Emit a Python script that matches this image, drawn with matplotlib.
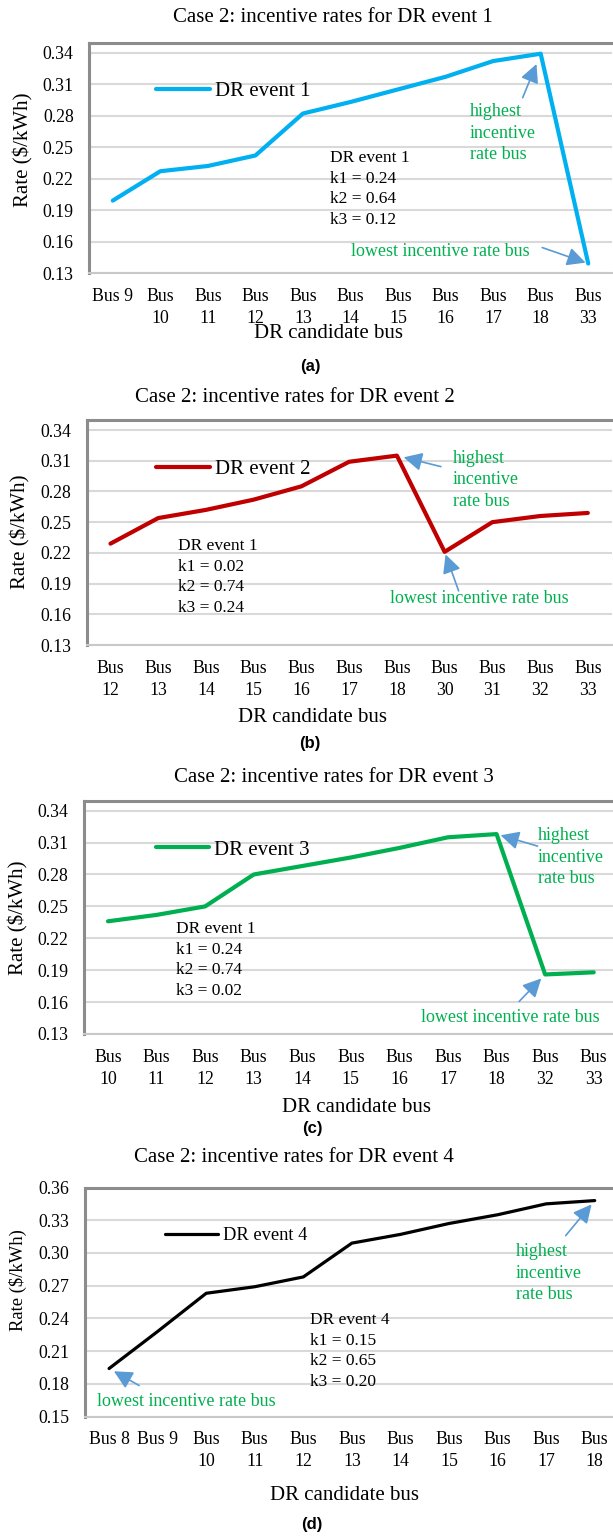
import numpy as np
import matplotlib
matplotlib.use('Agg')
import matplotlib.pyplot as plt

plt.rcParams['font.family'] = ['Liberation Serif', 'DejaVu Serif']

W, H = 613, 1537

# ---- data ----
buses_a = ['Bus 9', 'Bus\n10', 'Bus\n11', 'Bus\n12', 'Bus\n13', 'Bus\n14',
           'Bus\n15', 'Bus\n16', 'Bus\n17', 'Bus\n18', 'Bus\n33']
rates_a = [0.199, 0.227, 0.232, 0.242, 0.282, 0.293, 0.305, 0.317, 0.332, 0.339, 0.139]

buses_b = ['Bus\n12', 'Bus\n13', 'Bus\n14', 'Bus\n15', 'Bus\n16', 'Bus\n17',
           'Bus\n18', 'Bus\n30', 'Bus\n31', 'Bus\n32', 'Bus\n33']
rates_b = [0.229, 0.254, 0.262, 0.272, 0.285, 0.309, 0.315, 0.221, 0.250, 0.256, 0.259]

buses_c = ['Bus\n10', 'Bus\n11', 'Bus\n12', 'Bus\n13', 'Bus\n14', 'Bus\n15',
           'Bus\n16', 'Bus\n17', 'Bus\n18', 'Bus\n32', 'Bus\n33']
rates_c = [0.236, 0.242, 0.250, 0.280, 0.288, 0.296, 0.305, 0.315, 0.318, 0.186, 0.188]

buses_d = ['Bus 8', 'Bus 9', 'Bus\n10', 'Bus\n11', 'Bus\n12', 'Bus\n13',
           'Bus\n14', 'Bus\n15', 'Bus\n16', 'Bus\n17', 'Bus\n18']
rates_d = [0.194, 0.228, 0.263, 0.269, 0.278, 0.309, 0.317, 0.327, 0.335, 0.345, 0.348]

yticks_abc = [0.13, 0.16, 0.19, 0.22, 0.25, 0.28, 0.31, 0.34]
yticks_d = [0.15, 0.18, 0.21, 0.24, 0.27, 0.30, 0.33, 0.36]

GREEN = '#00B050'
ARROW = '#5B9BD5'


def frac(x, y):
    return x / W, 1 - y / H


def panel(fig, box, buses, rates, color, lw, yticks, ytop, legend_txt, leg_pos, leg_size):
    left, right, top, bottom = box
    x0, y0 = frac(left, bottom)
    ax = fig.add_axes([x0, y0, (right - left) / W, (bottom - top) / H])
    x = np.arange(len(buses))
    line, = ax.plot(x, rates, color=color, lw=lw, solid_joinstyle='round',
                    solid_capstyle='round', zorder=3)
    ax.set_xlim(-0.5, len(buses) - 0.5)
    ax.set_ylim(yticks[0], ytop)
    ax.set_yticks(yticks)
    ax.set_yticklabels(['{:.2f}'.format(t) for t in yticks])
    ax.set_xticks(x)
    ax.set_xticklabels(buses)
    for lbl in ax.get_xticklabels():
        lbl.set_linespacing(1.4)
    ax.tick_params(axis='y', length=0, pad=11, labelsize=12.8)
    ax.tick_params(axis='x', length=0, pad=10.5, labelsize=12.8)
    ax.yaxis.grid(True, color='#D9D9D9', lw=1.5)
    ax.set_axisbelow(True)
    for s in ['left', 'top']:
        ax.spines[s].set_color('#8C8C8C')
        ax.spines[s].set_linewidth(2.2)
    ax.spines['bottom'].set_color('#C8C8C8')
    ax.spines['bottom'].set_linewidth(1.5)
    ax.spines['right'].set_visible(False)
    hl = (leg_pos[2] - leg_pos[0]) / (leg_size * 100 / 72)
    ax.legend([line], [legend_txt], loc='center left', bbox_to_anchor=frac(leg_pos[0], leg_pos[1]),
              bbox_transform=fig.transFigure, frameon=False, borderpad=0, borderaxespad=0,
              handlelength=hl, handletextpad=0.25, fontsize=leg_size)
    return ax


def arrow(ax, i, v, off, shrink):
    # off = (dx right, dy down) of the arrow tail from the data point, in pixels
    ax.annotate('', xy=(i, v), xytext=(off[0], -off[1]), textcoords='offset pixels',
                annotation_clip=False,
                arrowprops=dict(arrowstyle='-|>,head_length=0.8,head_width=0.4',
                                color=ARROW, lw=1.2, shrinkA=0, shrinkB=shrink,
                                mutation_scale=14))


def text(fig, x, y, s, size, color='black', ha='left', ls=1.2, **kw):
    fx, fy = frac(x, y)
    fig.text(fx, fy, s, fontsize=size, color=color, ha=ha, va='center', linespacing=ls, **kw)


fig = plt.figure(figsize=(W / 100, H / 100), dpi=100)

# (a)
ax = panel(fig, (89, 612, 42.7, 273), buses_a, rates_a, '#00B0F0', 3.0, yticks_abc, 0.3495,
           'DR event 1', (156, 91, 210), 15)
hi, lo = int(np.argmax(rates_a)), int(np.argmin(rates_a))
arrow(ax, hi, rates_a[hi], (-18, 44), 8)
arrow(ax, lo, rates_a[lo], (-46, -16), 2)
text(fig, 333, 17, 'Case 2: incentive rates for DR event 1', 15, ha='center')
text(fig, 23, 150, 'Rate ($/kWh)', 15, ha='center', rotation=90)
text(fig, 328, 333, 'DR candidate bus', 15, ha='center')
text(fig, 310, 366, '(a)', 12, ha='center', family='Liberation Sans', weight='bold')
text(fig, 330, 189, 'DR event 1\nk1 = 0.24\nk2 = 0.64\nk3 = 0.12', 12.5, ls=1.4)
text(fig, 470, 133, 'highest\nincentive\nrate bus', 13, GREEN, ls=1.32)
text(fig, 351, 252, 'lowest incentive rate bus', 13, GREEN)

# (b)
ax = panel(fig, (86.6, 611.7, 420, 645), buses_b, rates_b, '#C00000', 3.0, yticks_abc, 0.3498,
           'DR event 2', (156, 469, 210), 15)
hi, lo = int(np.argmax(rates_b)), int(np.argmin(rates_b))
arrow(ax, hi, rates_b[hi], (44, 11), 5)
arrow(ax, lo, rates_b[lo], (14, 39), 2)
text(fig, 295, 397, 'Case 2: incentive rates for DR event 2', 15, ha='center')
text(fig, 20, 532, 'Rate ($/kWh)', 15, ha='center', rotation=90)
text(fig, 313, 717, 'DR candidate bus', 15, ha='center')
text(fig, 310, 743, '(b)', 12, ha='center', family='Liberation Sans', weight='bold')
text(fig, 178, 577, 'DR event 1\nk1 = 0.02\nk2 = 0.74\nk3 = 0.24', 12.5, ls=1.4)
text(fig, 453, 480, 'highest\nincentive\nrate bus', 13, GREEN, ls=1.32)
text(fig, 390, 598, 'lowest incentive rate bus', 13, GREEN)

# (c)
ax = panel(fig, (83.7, 618, 800.7, 1034), buses_c, rates_c, '#00B050', 3.0, yticks_abc, 0.3494,
           'DR event 3', (156, 850, 209), 15)
hi, lo = int(np.argmax(rates_c)), int(np.argmin(rates_c))
arrow(ax, hi, rates_c[hi], (41, 12), 3)
arrow(ax, lo, rates_c[lo], (-26, 27), 4)
text(fig, 334, 777, 'Case 2: incentive rates for DR event 3', 15, ha='center')
text(fig, 18, 918, 'Rate ($/kWh)', 15, ha='center', rotation=90)
text(fig, 357, 1107, 'DR candidate bus', 15, ha='center')
text(fig, 312, 1129, '(c)', 12, ha='center', family='Liberation Sans', weight='bold')
text(fig, 176, 960, 'DR event 1\nk1 = 0.24\nk2 = 0.74\nk3 = 0.02', 12.5, ls=1.4)
text(fig, 538, 857, 'highest\nincentive\nrate bus', 13, GREEN, ls=1.32)
text(fig, 421, 1017, 'lowest incentive rate bus', 13, GREEN)

# (d)
ax = panel(fig, (84.8, 619, 1187.5, 1416.5), buses_d, rates_d, 'black', 2.3, yticks_d, 0.36,
           'DR event 4', (165, 1236, 218), 13.3)
hi, lo = int(np.argmax(rates_d)), int(np.argmin(rates_d))
arrow(ax, hi, rates_d[hi], (-29, 35), 3.5)
arrow(ax, lo, rates_d[lo], (30, 17), 4)
text(fig, 294, 1157, 'Case 2: incentive rates for DR event 4', 15, ha='center')
text(fig, 18, 1280, 'Rate ($/kWh)', 13.4, ha='center', rotation=90)
text(fig, 344, 1496, 'DR candidate bus', 15, ha='center')
text(fig, 312, 1525, '(d)', 12, ha='center', family='Liberation Sans', weight='bold')
text(fig, 310, 1351, 'DR event 4\nk1 = 0.15\nk2 = 0.65\nk3 = 0.20', 12.5, ls=1.4)
text(fig, 516, 1273, 'highest\nincentive\nrate bus', 13, GREEN, ls=1.32)
text(fig, 97, 1401, 'lowest incentive rate bus', 13, GREEN)

fig.savefig('out.png', dpi=100, facecolor='white')
